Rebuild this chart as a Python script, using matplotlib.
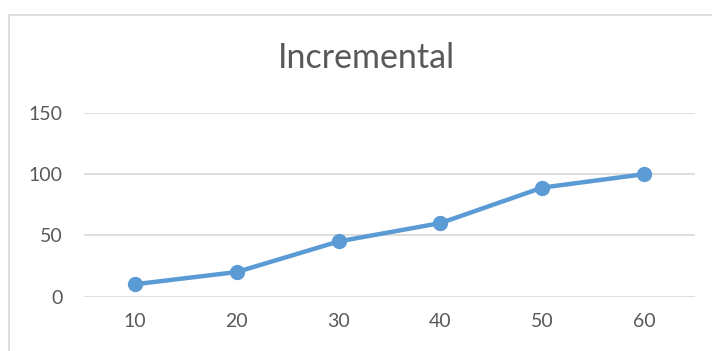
import matplotlib.pyplot as plt
from matplotlib.patches import Rectangle

# Datos del gráfico
categorias = ['10', '20', '30', '40', '50', '60']
valores = [10, 20, 45, 60, 89, 100]
y_ticks = [0, 50, 100, 150]

plt.rcParams['font.family'] = ['Lato', 'DejaVu Sans']

fig = plt.figure(figsize=(7.12, 3.51), dpi=100)
W, H = 712, 351

# Borde del área del gráfico (recortado a la derecha y abajo)
fig.patches.append(Rectangle((8.5 / W, -0.1), 1.2, (H - 14.5) / H + 0.1,
                             transform=fig.transFigure, fill=False,
                             edgecolor='#D9D9D9', linewidth=1.2))

ax = fig.add_axes([84 / W, (H - 296.5) / H, (695 - 84) / W, (296.5 - 113) / H])
x = range(len(categorias))
ax.plot(x, valores, color='#5B9BD5', linewidth=3.2, marker='o',
        markersize=10, solid_capstyle='round', zorder=3)

ax.set_xlim(-0.5, len(categorias) - 0.5)
ax.set_ylim(0, 150)
ax.set_xticks(list(x))
ax.set_xticklabels(categorias)
ax.set_yticks(y_ticks)
ax.grid(axis='y', color='#D9D9D9', linewidth=1.2)
ax.set_axisbelow(True)
for s in ax.spines.values():
    s.set_visible(False)
ax.tick_params(length=0, labelsize=14, colors='#595959')
ax.tick_params(axis='x', pad=12)
ax.tick_params(axis='y', pad=15.5)

fig.text(366 / W, 1 - 68 / H, 'Incremental', ha='center', va='baseline',
         fontsize=24.5, color='#595959')

fig.savefig('out.png', dpi=100)
